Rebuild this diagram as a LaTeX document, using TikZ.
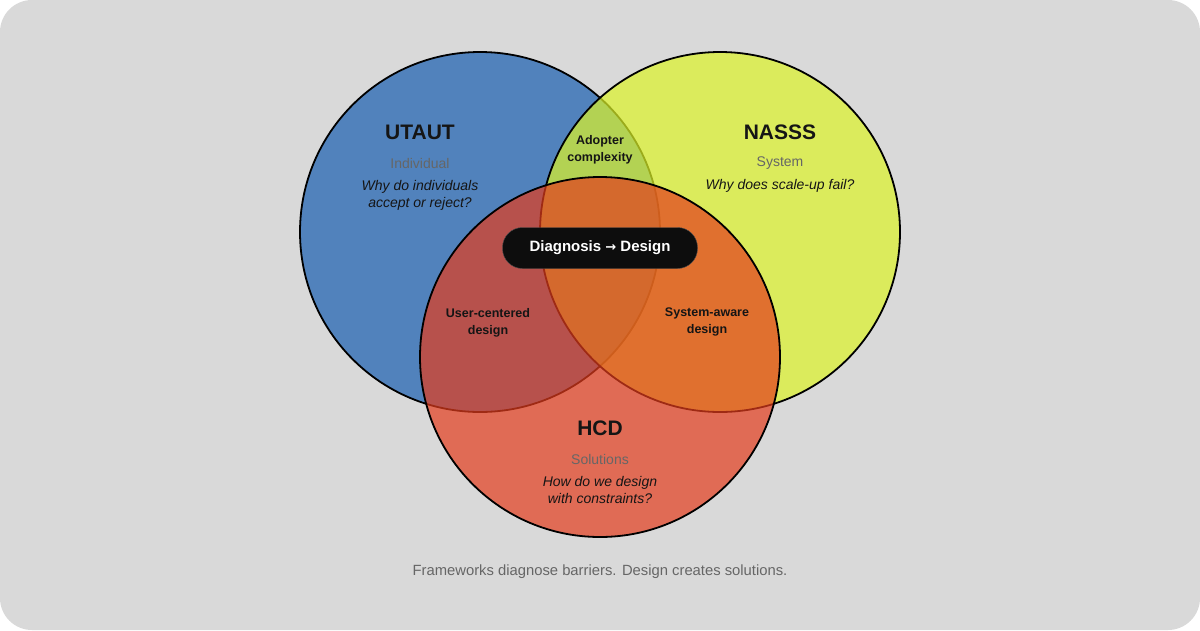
\documentclass[tikz,border=0pt]{standalone}
\usepackage{fontspec}
\setmainfont{Liberation Sans}
\newfontfamily\arrowfont{DejaVu Sans}
\definecolor{canvas}{HTML}{D9D9D9}
\definecolor{utautblue}{HTML}{185EB1}
\definecolor{nasssyellow}{HTML}{DDF427}
\definecolor{hcdred}{HTML}{E33D1D}
\definecolor{ink}{HTML}{151515}
\definecolor{subgray}{HTML}{666666}
\definecolor{pillblack}{HTML}{0D0D0D}
\begin{document}
\begin{tikzpicture}[x=1pt,y=-1pt,
        venn/.style={draw=black,line width=1.8pt,fill opacity=0.7},
        title/.style={font=\fontsize{21}{24}\selectfont\bfseries,text=ink},
        sub/.style={font=\fontsize{14}{16}\selectfont,text=subgray},
        ask/.style={font=\fontsize{14}{17}\selectfont\itshape,text=ink,align=center},
        overlap/.style={font=\fontsize{12.5}{17}\selectfont\bfseries,text=ink,align=center}]
        \pgfmathsetmacro{\radius}{180}
        % canvas
        \fill [white] (0,0) rectangle (1200,630);
        \fill [canvas, rounded corners=32pt] (0,0) rectangle (1200,630);
        \useasboundingbox (0,0) rectangle (1200,630);
        % the three sets
        \draw [venn, fill=utautblue] (480,232) circle (\radius);
        \draw [venn, fill=nasssyellow] (720,232) circle (\radius);
        \draw [venn, fill=hcdred] (600,357) circle (\radius);
        % set labels
        \node [title] (utaut) at (420,132) {UTAUT};
        \node [sub] (individual) at (420,163) {Individual};
        \node [ask] (utautq) at (420,195) {Why do individuals\\accept or reject?};
        \node [title] (nasss) at (780,132) {NASSS};
        \node [sub] (system) at (780,163) {System};
        \node [ask] (nasssq) at (780,186) {Why does scale-up fail?};
        \node [title] (hcd) at (600,428) {HCD};
        \node [sub] (solutions) at (600,459) {Solutions};
        \node [ask] (hcdq) at (600,490) {How do we design\\with constraints?};
        % overlaps
        \node [overlap] (adopter) at (600,150) {Adopter\\complexity};
        \node [overlap] (usercentered) at (488,323) {User-centered\\design};
        \node [overlap] (systemaware) at (707,322) {System-aware\\design};
        % centre
        \node [fill=pillblack, draw=black!70, rounded corners=20pt, minimum width=195pt, minimum height=41pt,
                text=white, font=\fontsize{15}{18}\selectfont\bfseries] (pill) at (600,248)
                {Diagnosis {\arrowfont\fontsize{13}{18}\selectfont →} Design};
        \node [font=\fontsize{14.8}{16}\selectfont, text=subgray] (caption) at (600,572)
                {Frameworks diagnose barriers. Design creates solutions.};
    \end{tikzpicture}
\end{document}
